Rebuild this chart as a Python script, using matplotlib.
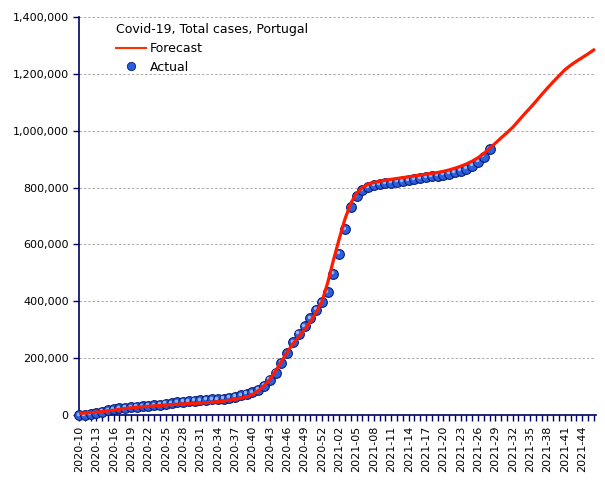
import matplotlib.pyplot as plt
from matplotlib.ticker import FuncFormatter
import matplotlib.transforms as mtransforms
from matplotlib.lines import Line2D

# weeks 2020-10 .. 2020-53, 2021-01 .. 2021-46
weeks = ["2020-%02d" % w for w in range(10, 54)] + ["2021-%02d" % w for w in range(1, 47)]

actual = [30, 245, 2060, 6408, 11730, 16934, 20206, 23864, 25702, 27268,
          28810, 30471, 32203, 34351, 36463, 39392, 41912, 44129, 46818, 48771,
          50410, 51848, 53223, 54701, 56274, 58012, 60895, 65021, 69663, 74717,
          79885, 89121, 103736, 124432, 149443, 183420, 217301, 255970, 285838, 312553,
          340287, 370787, 396666, 431623, 496552, 566958, 653878, 731861, 770502, 790885,
          801746, 807456, 811373, 814513, 817323, 820407, 823335, 826041, 829358, 832876,
          836581, 839426, 842272, 845250, 849093, 853707, 859519, 866826, 876312, 891481,
          909000, 934000]

forecast = [6000, 7000, 8500, 10000, 12000, 14500, 17000, 20000, 23000, 25000,
            27000, 29000, 30500, 32000, 33500, 35000, 36500, 38000, 39000, 40000,
            41000, 42000, 43500, 45000, 47000, 49000, 52000, 55500, 59500, 64000,
            72000, 85000, 103000, 125000, 155000, 188000, 222000, 250000, 275000, 300000,
            328000, 360000, 398000, 465000, 545000, 620000, 690000, 745000, 780000, 800000,
            812000, 818000, 822000, 826000, 829000, 832000, 835000, 838000, 841000, 844000,
            847000, 850000, 853000, 857000, 862000, 868000, 875000, 883000, 893000, 905000,
            920000, 938000, 956000, 975000, 993000, 1012000, 1035000, 1058000, 1080000, 1103000,
            1127000, 1150000, 1172000, 1193000, 1214000, 1230000, 1244000, 1257000, 1270000, 1284000]

navy = "#000066"

fig = plt.figure(figsize=(6.05, 4.8), dpi=100)
ax = fig.add_axes([0.1306, 0.1354, 0.8545, 0.8292])

xa = list(range(len(actual)))
xf = list(range(len(forecast)))

# balls: blue body with dark rim + light highlight
ax.plot(xa, actual, "o", ms=7, mfc="#2a60dc", mec="#0c1c78", mew=0.8,
        clip_on=False, zorder=3)
hl = mtransforms.offset_copy(ax.transData, fig=fig, x=-1.0, y=1.0, units="points")
ax.plot(xa, actual, "o", ms=2.5, mfc="#8ab8ff", mec="none", transform=hl,
        clip_on=False, zorder=4)
ax.plot(xf, forecast, "-", color="#ff1a00", lw=2.3, zorder=5)

ax.set_xlim(0, 89.4)
ax.set_ylim(0, 1400000)
ax.set_yticks(range(0, 1400001, 200000))
ax.yaxis.set_major_formatter(FuncFormatter(lambda v, p: "{:,.0f}".format(v)))
ax.set_xticks(xf)
ax.set_xticklabels([w if i % 3 == 0 else "" for i, w in enumerate(weeks)], rotation=90)

ax.grid(axis="y", color="#aaaaaa", linestyle=(0, (2.5, 2)), linewidth=0.7)
ax.set_axisbelow(True)
for s in ["top", "right"]:
    ax.spines[s].set_visible(False)
for s in ["left", "bottom"]:
    ax.spines[s].set_color(navy)
    ax.spines[s].set_linewidth(1.2)
ax.tick_params(axis="both", colors=navy, labelcolor="black", labelsize=8,
               length=4, width=1)

handles = [Line2D([], [], color="#ff3300", lw=1.5),
           Line2D([], [], ls="none", marker="o", ms=6, mfc="#2a60dc", mec="#0c1c78", mew=0.6)]
leg = ax.legend(handles, ["Forecast", "Actual"], title="Covid-19, Total cases, Portugal",
                loc="upper left", bbox_to_anchor=(0.05, 1.012), frameon=False,
                fontsize=9, title_fontsize=9, alignment="left",
                handlelength=2.4, handletextpad=0.3, labelspacing=0.45)

fig.savefig("out.png", dpi=100)
